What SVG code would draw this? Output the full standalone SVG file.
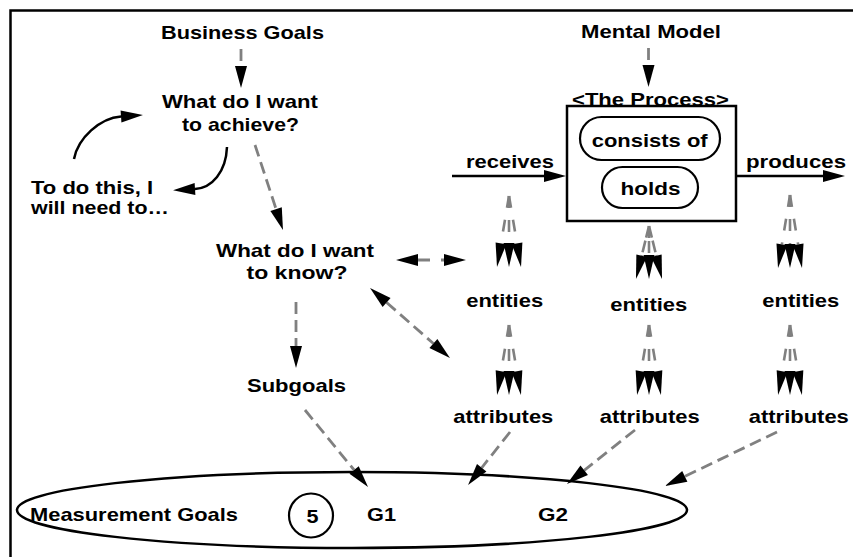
<svg xmlns="http://www.w3.org/2000/svg" width="853" height="557" viewBox="0 0 853 557">
<defs>
<style>
text{font-family:"Liberation Sans",Arial,sans-serif;font-weight:bold;font-size:18.6px;fill:#000}
.c{text-anchor:middle}
.dash{fill:none;stroke:#808080;stroke-width:2.8;stroke-dasharray:12 6}
.fan{fill:none;stroke:#808080;stroke-width:2.6;stroke-dasharray:12 12}
.solid{fill:none;stroke:#000;stroke-width:2.5}
.shape{fill:#fff;stroke:#000;stroke-width:2.5}
</style>
<marker id="ah" markerUnits="userSpaceOnUse" markerWidth="23" markerHeight="12" refX="0" refY="6" orient="auto-start-reverse" overflow="visible"><path d="M0,0 L22,6 L0,12 Z" fill="#000"/></marker>
<marker id="fh" markerUnits="userSpaceOnUse" markerWidth="24" markerHeight="11" refX="0" refY="5.5" orient="auto" overflow="visible"><path d="M0,0 L24,5.5 L0,11 Z" fill="#000"/></marker>
</defs>
<rect width="853" height="557" fill="#fff"/>
<path d="M10.5,557 V10.5 H853" fill="none" stroke="#000" stroke-width="2.5"/>

<g id="measurement-goals">
<ellipse cx="352" cy="510" rx="335" ry="38" fill="#fff" stroke="#000" stroke-width="2.5"/>
<text x="30" y="521" textLength="208" lengthAdjust="spacingAndGlyphs">Measurement Goals</text>
<circle cx="311" cy="515.5" r="22" fill="#fff" stroke="#000" stroke-width="2.2"/>
<text class="c" x="312.5" y="522.5" textLength="12" lengthAdjust="spacingAndGlyphs">5</text>
<text class="c" x="381.5" y="521" textLength="29" lengthAdjust="spacingAndGlyphs">G1</text>
<text class="c" x="553" y="521" textLength="30" lengthAdjust="spacingAndGlyphs">G2</text>
</g>

<g id="business-goals"><text class="c" x="242.5" y="39" textLength="163" lengthAdjust="spacingAndGlyphs">Business Goals</text></g>
<g id="achieve">
<text class="c" x="240" y="108" textLength="156" lengthAdjust="spacingAndGlyphs">What do I want</text>
<text class="c" x="240.5" y="131" textLength="117" lengthAdjust="spacingAndGlyphs">to achieve?</text>
</g>
<g id="to-do-this">
<text x="31" y="194" textLength="122" lengthAdjust="spacingAndGlyphs">To do this, I</text>
<text x="31" y="214" textLength="138" lengthAdjust="spacingAndGlyphs">will need to…</text>
</g>
<g id="know">
<text class="c" x="295" y="257" textLength="158" lengthAdjust="spacingAndGlyphs">What do I want</text>
<text class="c" x="297" y="278.5" textLength="101" lengthAdjust="spacingAndGlyphs">to know?</text>
</g>
<g id="subgoals"><text class="c" x="296.5" y="392" textLength="99" lengthAdjust="spacingAndGlyphs">Subgoals</text></g>
<g id="mental-model"><text class="c" x="651" y="38" textLength="140" lengthAdjust="spacingAndGlyphs">Mental Model</text></g>

<g id="process">
<text class="c" x="650.5" y="106" textLength="157" lengthAdjust="spacingAndGlyphs">&lt;The Process&gt;</text>
<rect class="shape" x="567" y="106" width="169" height="115"/>
<rect x="580" y="117" width="140" height="43" rx="21.5" fill="#fff" stroke="#000" stroke-width="2.2"/>
<text class="c" x="649.7" y="146.7" textLength="116" lengthAdjust="spacingAndGlyphs">consists of</text>
<rect x="602" y="167" width="96" height="41" rx="20.5" fill="#fff" stroke="#000" stroke-width="2.2"/>
<text class="c" x="650.5" y="195" textLength="60" lengthAdjust="spacingAndGlyphs">holds</text>
</g>

<g id="receives"><text class="c" x="510" y="168" textLength="88" lengthAdjust="spacingAndGlyphs">receives</text></g>
<g id="produces"><text class="c" x="796" y="168" textLength="100" lengthAdjust="spacingAndGlyphs">produces</text></g>

<g id="entities-1"><text class="c" x="504.7" y="306.7" textLength="77" lengthAdjust="spacingAndGlyphs">entities</text></g>
<g id="entities-2"><text class="c" x="648.8" y="310.7" textLength="77" lengthAdjust="spacingAndGlyphs">entities</text></g>
<g id="entities-3"><text class="c" x="800.8" y="306.7" textLength="77" lengthAdjust="spacingAndGlyphs">entities</text></g>
<g id="attributes-1"><text class="c" x="503.3" y="422.7" textLength="100" lengthAdjust="spacingAndGlyphs">attributes</text></g>
<g id="attributes-2"><text class="c" x="649.7" y="422.7" textLength="100" lengthAdjust="spacingAndGlyphs">attributes</text></g>
<g id="attributes-3"><text class="c" x="798.8" y="422.7" textLength="100" lengthAdjust="spacingAndGlyphs">attributes</text></g>

<g id="connectors">
<path class="dash" d="M241,49 V66" marker-end="url(#ah)"/>
<path class="dash" d="M648.5,48 V65" marker-end="url(#ah)"/>
<path class="dash" d="M255,145 L276.1,209.1" marker-end="url(#ah)"/>
<path class="dash" d="M296,302 V346" marker-end="url(#ah)"/>
<path class="dash" d="M305,410 L354.1,470" marker-end="url(#ah)"/>
<path class="dash" style="stroke-dasharray:12 11" d="M418,260 H444" marker-start="url(#ah)" marker-end="url(#ah)"/>
<path class="dash" d="M386.6,302.5 L433.4,343.5" marker-start="url(#ah)" marker-end="url(#ah)"/>
<path class="dash" d="M510,432 L481.7,467.8" marker-end="url(#ah)"/>
<path class="dash" d="M635,430 L584.2,470.3" marker-end="url(#ah)"/>
<path class="dash" d="M777,432 L684.8,476.4" marker-end="url(#ah)"/>

<path class="solid" d="M452,176 H544" marker-end="url(#ah)"/>
<path class="solid" d="M736,176 H823" marker-end="url(#ah)"/>
<path class="solid" d="M74,159 C78,138 100,118 121,116.5" marker-end="url(#ah)"/>
<path class="solid" d="M227,147 C226,172 212,188 195,189" marker-end="url(#ah)"/>

<path class="fan" d="M509,196 L501,243.3" marker-end="url(#fh)"/>
<path class="fan" d="M509,196 L509,243" marker-end="url(#fh)"/>
<path class="fan" d="M509,196 L517,243.3" marker-end="url(#fh)"/>
<path class="fan" d="M509,325 L501.1,371.3" marker-end="url(#fh)"/>
<path class="fan" d="M509,325 L509,371" marker-end="url(#fh)"/>
<path class="fan" d="M509,325 L516.9,371.3" marker-end="url(#fh)"/>
<path class="fan" style="stroke-dasharray:12 3" d="M649,226 L641.7,255.7" marker-end="url(#fh)"/>
<path class="fan" style="stroke-dasharray:12 3" d="M649,226 L649,255" marker-end="url(#fh)"/>
<path class="fan" style="stroke-dasharray:12 3" d="M649,226 L656.3,255.7" marker-end="url(#fh)"/>
<path class="fan" d="M649,325 L641.1,371.3" marker-end="url(#fh)"/>
<path class="fan" d="M649,325 L649,371" marker-end="url(#fh)"/>
<path class="fan" d="M649,325 L656.9,371.3" marker-end="url(#fh)"/>
<path class="fan" d="M790,195 L781.9,244.3" marker-end="url(#fh)"/>
<path class="fan" d="M790,195 L790,244" marker-end="url(#fh)"/>
<path class="fan" d="M790,195 L798.1,244.3" marker-end="url(#fh)"/>
<path class="fan" d="M790,325 L782.1,371.3" marker-end="url(#fh)"/>
<path class="fan" d="M790,325 L790,371" marker-end="url(#fh)"/>
<path class="fan" d="M790,325 L797.9,371.3" marker-end="url(#fh)"/>
</g>
</svg>
